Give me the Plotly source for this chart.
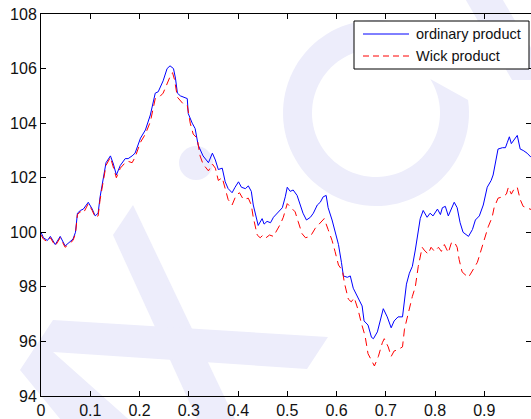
import numpy as np
import plotly.graph_objects as go

# Sample times and values of the ordinary-product solution (solid blue)
t_ordinary = [0.0, 0.005, 0.013, 0.019, 0.029, 0.039, 0.049, 0.065, 0.070, 0.074,
              0.080, 0.086, 0.096, 0.104, 0.110, 0.116, 0.120, 0.126, 0.132, 0.141,
              0.147, 0.153, 0.161, 0.171, 0.177, 0.185, 0.191, 0.202, 0.212, 0.222,
              0.232, 0.238, 0.248, 0.256, 0.262, 0.269, 0.273, 0.277, 0.283, 0.297,
              0.299, 0.307, 0.313, 0.319, 0.329, 0.340, 0.348, 0.354, 0.360, 0.368,
              0.374, 0.380, 0.388, 0.394, 0.401, 0.407, 0.415, 0.421, 0.427, 0.431,
              0.435, 0.441, 0.449, 0.453, 0.459, 0.466, 0.472, 0.482, 0.490, 0.496,
              0.500, 0.506, 0.512, 0.520, 0.526, 0.532, 0.539, 0.547, 0.553, 0.561,
              0.567, 0.573, 0.579, 0.583, 0.591, 0.597, 0.604, 0.610, 0.614, 0.622,
              0.628, 0.634, 0.642, 0.648, 0.652, 0.656, 0.664, 0.671, 0.675, 0.683,
              0.689, 0.695, 0.703, 0.711, 0.717, 0.725, 0.734, 0.738, 0.742, 0.748,
              0.754, 0.760, 0.766, 0.770, 0.776, 0.784, 0.790, 0.796, 0.805, 0.811,
              0.815, 0.821, 0.827, 0.835, 0.839, 0.845, 0.851, 0.857, 0.868, 0.876,
              0.882, 0.890, 0.898, 0.906, 0.914, 0.918, 0.924, 0.928, 0.937, 0.943,
              0.947, 0.951, 0.955, 0.961, 0.967, 0.973, 0.979, 0.987, 0.995, 1.0]
ordinary = [100.0, 99.8, 99.7, 99.85, 99.55, 99.85, 99.5, 99.75, 100.0, 100.7,
            100.8, 100.85, 101.1, 100.85, 100.6, 100.7, 101.3, 101.9, 102.55, 102.8,
            102.5, 102.1, 102.45, 102.7, 102.7, 102.8, 102.9, 103.45, 103.75, 104.3,
            105.1, 105.15, 105.55, 106.0, 106.1, 106.0, 105.65, 105.1, 105.0, 104.9,
            104.35, 104.0, 103.8, 103.2, 102.8, 102.55, 102.9, 102.65, 102.3, 102.35,
            101.85, 101.6, 101.45, 101.65, 101.85, 101.65, 101.6, 101.7, 101.5, 101.0,
            100.65, 100.25, 100.5, 100.3, 100.4, 100.35, 100.55, 100.75, 100.9, 101.3,
            101.65, 101.5, 101.55, 101.35, 101.0, 100.7, 100.45, 100.55, 100.7, 101.0,
            101.1, 101.3, 101.35, 100.9, 100.45, 100.0, 99.55, 98.9, 98.4, 98.35,
            98.4, 97.95, 97.65, 97.4, 97.3, 96.75, 96.6, 96.15, 96.1, 96.35,
            96.8, 97.2, 96.9, 96.5, 96.75, 96.9, 96.9, 97.6, 98.1, 98.5,
            98.75, 99.35, 99.95, 100.5, 100.8, 100.55, 100.7, 100.6, 100.85, 100.65,
            100.9, 100.95, 100.6, 100.95, 101.1, 100.9, 100.35, 100.0, 99.85, 100.1,
            100.45, 100.6, 101.0, 101.65, 101.9, 102.1, 102.7, 103.05, 103.1, 103.1,
            103.3, 103.5, 103.25, 103.4, 103.55, 103.05, 103.0, 102.9, 102.75, 102.7]

# Sample times and values of the Wick-product solution (dashed red)
t_wick = [0.0, 0.005, 0.013, 0.019, 0.029, 0.039, 0.049, 0.065, 0.070, 0.074,
          0.080, 0.086, 0.096, 0.104, 0.110, 0.116, 0.120, 0.126, 0.132, 0.141,
          0.147, 0.153, 0.161, 0.171, 0.177, 0.185, 0.191, 0.202, 0.212, 0.222,
          0.232, 0.240, 0.248, 0.256, 0.262, 0.267, 0.271, 0.277, 0.289, 0.297,
          0.303, 0.309, 0.317, 0.323, 0.329, 0.340, 0.348, 0.354, 0.360, 0.368,
          0.374, 0.380, 0.388, 0.396, 0.403, 0.411, 0.421, 0.427, 0.431, 0.439,
          0.445, 0.451, 0.457, 0.464, 0.472, 0.480, 0.486, 0.492, 0.500, 0.508,
          0.516, 0.522, 0.530, 0.537, 0.547, 0.557, 0.567, 0.575, 0.583, 0.591,
          0.597, 0.604, 0.612, 0.616, 0.624, 0.630, 0.636, 0.644, 0.650, 0.658,
          0.664, 0.671, 0.677, 0.685, 0.693, 0.697, 0.705, 0.711, 0.717, 0.725,
          0.734, 0.738, 0.746, 0.754, 0.760, 0.766, 0.774, 0.778, 0.786, 0.792,
          0.799, 0.807, 0.813, 0.819, 0.827, 0.833, 0.839, 0.845, 0.849, 0.855,
          0.861, 0.868, 0.878, 0.886, 0.892, 0.900, 0.908, 0.916, 0.920, 0.928,
          0.937, 0.945, 0.949, 0.955, 0.961, 0.967, 0.973, 0.979, 0.987, 0.995, 1.0]
wick = [99.9, 99.75, 99.65, 99.8, 99.5, 99.8, 99.45, 99.7, 99.95, 100.65,
        100.75, 100.7, 101.05, 100.8, 100.55, 100.6, 101.2, 101.85, 102.45, 102.75,
        102.4, 102.0, 102.35, 102.55, 102.6, 102.55, 102.75, 103.3, 103.6, 104.05,
        104.9, 104.95, 105.1, 105.45, 105.7, 105.85, 105.6, 104.95, 104.7, 104.65,
        104.0, 103.6, 103.45, 102.8, 102.5, 102.25, 102.5, 102.35, 101.9, 102.0,
        101.55, 101.2, 101.0, 101.35, 101.45, 101.2, 101.25, 101.0, 100.55, 99.9,
        99.8, 99.9, 99.8, 99.9, 99.85, 100.1, 100.3, 100.55, 101.05, 100.9,
        100.75, 100.4, 99.95, 99.8, 99.85, 100.15, 100.35, 100.5, 100.1, 99.7,
        99.3, 98.8, 98.6, 98.15, 97.55, 97.45, 97.6, 97.15, 96.7, 96.2,
        95.55, 95.3, 95.1, 95.45, 95.95, 96.1, 95.8, 95.45, 95.65, 95.7,
        95.8, 96.45, 97.1, 97.65, 98.0, 98.75, 99.45, 99.35, 99.2, 99.45,
        99.3, 99.45, 99.3, 99.55, 99.25, 99.6, 99.65, 99.45, 99.0, 98.55,
        98.45, 98.35, 98.65, 98.9, 99.25, 99.7, 100.2, 100.55, 100.9, 101.25,
        101.3, 101.4, 101.65, 101.4, 101.6, 101.65, 101.2, 100.95, 100.9, 100.85, 100.8]

x_ticks = [0, 0.1, 0.2, 0.3, 0.4, 0.5, 0.6, 0.7, 0.8, 0.9]
y_ticks = [94, 96, 98, 100, 102, 104, 106, 108]
series_names = ["ordinary product", "Wick product"]

W, H = 531, 419
ML, MR, MT, MB = 41, 0, 14, 23
PW, PH = W - ML - MR, H - MT - MB
FONT = "Liberation Sans, Arial, Helvetica, sans-serif"
WATERMARK = "#EDEDFB"


def px(x, y):
    """Pixel position -> paper coordinates."""
    return (x - ML) / PW, (H - MB - y) / PH


def poly_path(points):
    pts = [px(x, y) for x, y in points]
    return "M" + " L".join(f"{a:.4f},{b:.4f}" for a, b in pts) + " Z"


fig = go.Figure()
fig.add_trace(go.Scatter(x=t_ordinary, y=ordinary, mode="lines", name=series_names[0],
                         line=dict(color="#0000FF", width=1)))
fig.add_trace(go.Scatter(x=t_wick, y=wick, mode="lines", name=series_names[1],
                         line=dict(color="#FF0000", width=1, dash="8px,5px")))

shapes = []
# faint background lettering
bands = [
    [(113, 235), (133, 205), (235, 419), (197, 419)],
    [(20, 370), (53, 320), (328, 337), (307, 369), (53, 352), (135, 425), (65, 425)],
    [(463, -5), (500, -5), (550, 80), (512, 80)],
]
for b in bands:
    shapes.append(dict(type="path", xref="paper", yref="paper", path=poly_path(b),
                       fillcolor=WATERMARK, line=dict(width=0), layer="below"))

cx, cy, r_out, r_in = 376, 113, 93, 64
a_out = np.radians(np.linspace(8, -305, 90))
a_in = np.radians(np.linspace(-305, 32, 90))
ring = [(cx + r_out * np.cos(a), cy - r_out * np.sin(a)) for a in a_out]
ring += [(cx + r_in * np.cos(a), cy - r_in * np.sin(a)) for a in a_in]
shapes.append(dict(type="path", xref="paper", yref="paper", path=poly_path(ring),
                   fillcolor=WATERMARK, line=dict(width=0), layer="below"))

bx0, by0 = px(179, 146)
bx1, by1 = px(213, 180)
shapes.append(dict(type="circle", xref="paper", yref="paper", x0=bx0, y0=by0, x1=bx1, y1=by1,
                   fillcolor=WATERMARK, line=dict(width=0), layer="below"))

# legend box
lx0, ly0 = px(354, 21)
lx1, ly1 = px(529, 69)
shapes.append(dict(type="rect", xref="paper", yref="paper", x0=lx0, y0=ly0, x1=lx1, y1=ly1,
                   fillcolor="white", line=dict(color="black", width=1), layer="above"))
annotations = []
for name, ycen, color, dash in [(series_names[0], 34, "#0000FF", "solid"),
                                (series_names[1], 56, "#FF0000", "6px,4px")]:
    sx0, sy = px(363, ycen)
    sx1, _ = px(409, ycen)
    shapes.append(dict(type="line", xref="paper", yref="paper", x0=sx0, x1=sx1, y0=sy, y1=sy,
                       line=dict(color=color, width=1, dash=dash), layer="above"))
    tx, ty = px(414, ycen)
    annotations.append(dict(xref="paper", yref="paper", x=tx, y=ty, text=name, showarrow=False,
                            xanchor="left", yanchor="middle",
                            font=dict(family=FONT, size=14.5, color="#111111")))

axis_common = dict(ticks="inside", ticklen=5, tickwidth=1, tickcolor="black",
                   showline=True, linecolor="black", linewidth=1, mirror="ticks",
                   showgrid=False, zeroline=False,
                   tickfont=dict(family=FONT, size=16, color="#111111"))

fig.update_layout(
    width=W, height=H,
    margin=dict(l=ML, r=MR, t=MT, b=MB, autoexpand=False),
    paper_bgcolor="white", plot_bgcolor="rgba(0,0,0,0)",
    showlegend=False,
    xaxis=dict(range=[0, PW / 492.5], tickvals=x_ticks, **axis_common),
    yaxis=dict(range=[94, 108], tickvals=y_ticks, **axis_common),
    shapes=shapes, annotations=annotations,
)

fig.write_html("out.html")
